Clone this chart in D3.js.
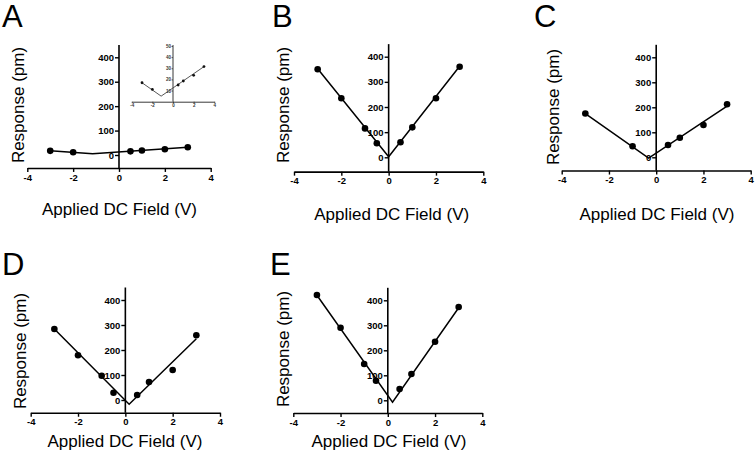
<!DOCTYPE html>
<html><head><meta charset="utf-8">
<script src="https://cdn.jsdelivr.net/npm/d3@7"></script>
<style>
body{margin:0;background:#fff;}
svg{display:block;font-family:"Liberation Sans",Arial,sans-serif;}
</style></head>
<body><svg id="c" width="756" height="467"></svg>
<script>
// ---- data ----
const xTicks = [-4, -2, 0, 2, 4];
const yTicks = [0, 100, 200, 300, 400];
const insetYTicks = [10, 20, 30, 40, 50];
const panelLetters = ["A", "B", "C", "D", "E"];
const xLabel = "Applied DC Field (V)";
const yLabel = "Response (pm)";

const xA = [-3, -2, 0.5, 1, 2, 3];
const yA = [17, 11, 15, 18.6, 23.7, 31.5];
const fitA = [[-3, 17], [-1.15, 5], [3, 31.5]];

const xB = [-3, -2, -1, -0.5, 0.5, 1, 2, 3];
const yB = [350, 235, 115, 56, 60, 119, 235, 360];
const fitB = [[-3, 352], [0, 2], [3, 362]];

const xC = [-3, -1, 0.5, 1, 2, 3];
const yC = [175, 44, 49, 78, 129, 212];
const fitC = [[-3, 175], [-0.32, -3], [3, 205]];

const xD = [-3, -2, -1, -0.5, 0.5, 1, 2, 3];
const yD = [284, 179, 97, 29, 20, 72, 120, 259];
const fitD = [[-3, 284], [0.16, -17], [3, 245]];

const xE = [-3, -2, -1, -0.5, 0.5, 1, 2, 3];
const yE = [421, 290, 145, 78, 45, 105, 234, 373];
const fitE = [[-3, 420], [0.2, -8], [3, 370]];

// ---- layout ----
const layout = [
  {xs:xA, ys:yA, fit:fitA, x0:27.3, x1:210.7, y0:155, y400:57.3, yBot:-53, letter:[2,27], ylab:[24,105], xlab:[119.5,214.5]},
  {xs:xB, ys:yB, fit:fitB, x0:294, x1:483.3, y0:157.3, y400:56.7, yBot:-57, letter:[272,27], ylab:[288.5,105], xlab:[391.7,219.5]},
  {xs:xC, ys:yC, fit:fitC, x0:561.7, x1:750.7, y0:157.3, y400:57.3, yBot:-53, letter:[534,27], ylab:[558.5,107], xlab:[657,219.5]},
  {xs:xD, ys:yD, fit:fitD, x0:30.7, x1:220, y0:400, y400:300, yBot:-51, letter:[2,275], ylab:[25.5,351], xlab:[125,447]},
  {xs:xE, ys:yE, fit:fitE, x0:293.3, x1:482.3, y0:400.3, y400:300.3, yBot:-51, letter:[270,275], ylab:[289,349], xlab:[389,447]}
];

const fmt = d => (d < 0 ? "-" + (-d) : String(d));
const svg = d3.select("#c");

layout.forEach((p, i) => {
  const g = svg.append("g");
  const x = d3.scaleLinear().domain([-4, 4]).range([p.x0, p.x1]);
  const y = d3.scaleLinear().domain([0, 400]).range([p.y0, p.y400]);
  const yTop = 450;

  const xa = g.append("g").attr("transform", `translate(0,${y(p.yBot)})`)
    .call(d3.axisBottom(x).tickValues(xTicks).tickFormat(fmt).tickSize(4).tickPadding(2).tickSizeOuter(0));
  const ya = g.append("g").attr("transform", `translate(${x(0)},0)`)
    .call(d3.axisLeft(y).tickValues(yTicks).tickFormat(fmt).tickSize(4).tickPadding(1).tickSizeOuter(0));
  ya.select(".domain").attr("d", `M0,${y(p.yBot)}V${y(yTop)}`);
  [xa, ya].forEach(a => {
    a.select(".domain").attr("stroke", "#000").attr("stroke-width", 1.6);
    a.selectAll(".tick line").attr("stroke", "#000").attr("stroke-width", 1.4);
    a.selectAll(".tick text").attr("fill", "#000").attr("font-size", 9.5)
      .attr("font-weight", "bold").attr("font-family", "'Liberation Sans',Arial,sans-serif");
  });

  g.append("path").datum(p.fit)
    .attr("d", d3.line().x(d => x(d[0])).y(d => y(d[1])))
    .attr("fill", "none").attr("stroke", "#000").attr("stroke-width", 1.5);
  g.selectAll("circle.pt").data(p.xs.map((v, k) => [v, p.ys[k]])).join("circle")
    .attr("class", "pt").attr("cx", d => x(d[0])).attr("cy", d => y(d[1]))
    .attr("r", 3.3).attr("fill", "#000");

  g.append("text").attr("x", p.letter[0]).attr("y", p.letter[1])
    .attr("font-size", 31).attr("fill", "#000").text(panelLetters[i]);
  g.append("text").attr("transform", `translate(${p.ylab[0]},${p.ylab[1]}) rotate(-90)`)
    .attr("text-anchor", "middle").attr("font-size", 17).attr("fill", "#000").text(yLabel);
  g.append("text").attr("x", p.xlab[0]).attr("y", p.xlab[1])
    .attr("text-anchor", "middle").attr("font-size", 17).attr("fill", "#000").text(xLabel);

  if (i === 0) {
    const ig = svg.append("g");
    const ix = d3.scaleLinear().domain([-4, 4]).range([131.7, 214.3]);
    const iy = d3.scaleLinear().domain([0, 50]).range([101.7, 46]);
    const ixa = ig.append("g").attr("transform", `translate(0,${iy(0)})`)
      .call(d3.axisBottom(ix).tickValues(xTicks).tickFormat(fmt).tickSize(1.5).tickPadding(1).tickSizeOuter(0));
    const iya = ig.append("g").attr("transform", `translate(${ix(0)},0)`)
      .call(d3.axisLeft(iy).tickValues(insetYTicks).tickFormat(fmt).tickSize(1.5).tickPadding(0.5).tickSizeOuter(0));
    iya.select(".domain").attr("d", `M0,${iy(0)}V${iy(50) - 1}`);
    [ixa, iya].forEach(a => {
      a.select(".domain").attr("stroke", "#222").attr("stroke-width", 0.9);
      a.selectAll(".tick line").attr("stroke", "#222").attr("stroke-width", 0.7);
      a.selectAll(".tick text").attr("fill", "#333").attr("font-size", 4.5).attr("font-weight", "bold")
        .attr("font-family", "'Liberation Sans',Arial,sans-serif");
    });
    ig.append("path").datum(fitA)
      .attr("d", d3.line().x(d => ix(d[0])).y(d => iy(d[1])))
      .attr("fill", "none").attr("stroke", "#444").attr("stroke-width", 0.9);
    ig.selectAll("circle").data(xA.map((v, k) => [v, yA[k]])).join("circle")
      .attr("cx", d => ix(d[0])).attr("cy", d => iy(d[1])).attr("r", 1.4).attr("fill", "#111");
  }
});
</script></body></html>
